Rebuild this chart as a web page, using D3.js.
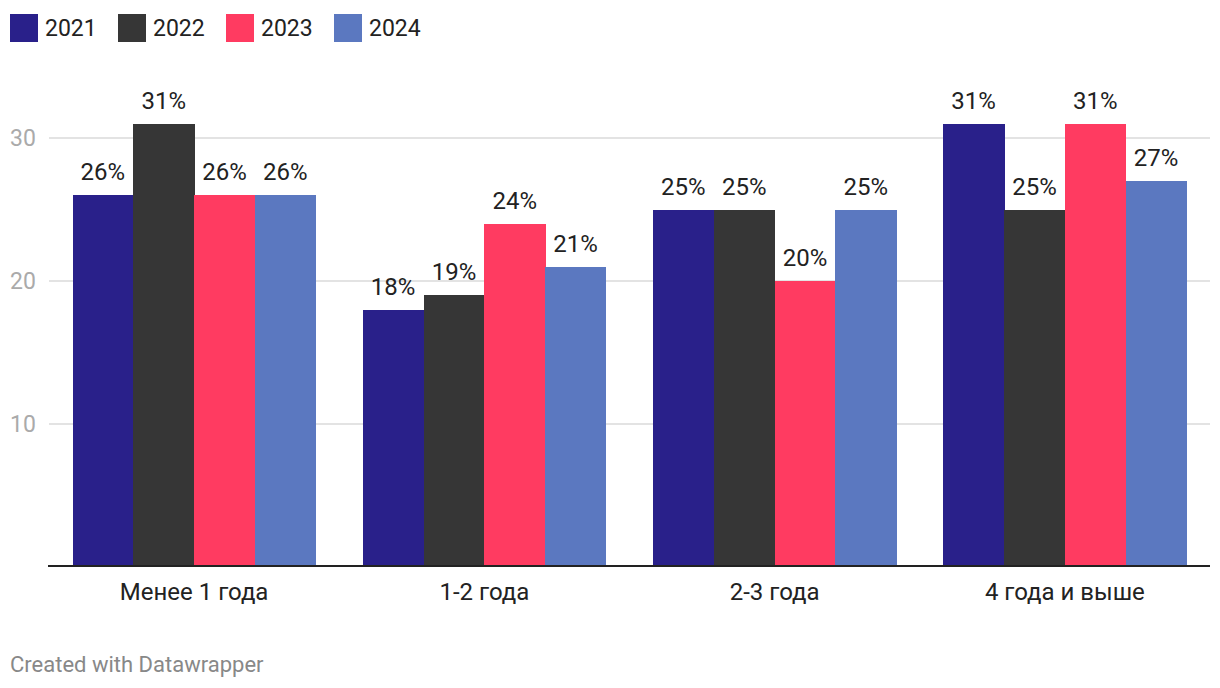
<!DOCTYPE html>
<html>
<head>
<meta charset="utf-8">
<script src="https://cdn.jsdelivr.net/npm/d3@7"></script>
<style>
  body { margin: 0; background: #fff; }
  text { font-family: Roboto, "Noto Sans", sans-serif; }
</style>
</head>
<body>
<svg id="chart" width="1220" height="688"></svg>
<script>
const categories = ["Менее 1 года", "1-2 года", "2-3 года", "4 года и выше"];
const years = ["2021", "2022", "2023", "2024"];
const colors = ["#29208a", "#363636", "#ff3b61", "#5b78c0"];
const values2021 = [26, 18, 25, 31];
const values2022 = [31, 19, 25, 25];
const values2023 = [26, 24, 20, 31];
const values2024 = [26, 21, 25, 27];
const yTicks = [10, 20, 30];

const series = [values2021, values2022, values2023, values2024];

const svg = d3.select("#chart");
const left = 49, right = 1210, zeroY = 567;

let x = d3.scaleBand().domain(categories).range([left, right])
  .paddingInner(0.162).paddingOuter(0.081);
let x1 = d3.scaleBand().domain(years).range([0, x.bandwidth()]);
let y = d3.scaleLinear().domain([0, 30]).range([zeroY, 138]);

// legend
let lg = svg.append("g");
years.forEach((yr, i) => {
  let gx = 10 + i * 108;
  lg.append("rect").attr("x", gx).attr("y", 14).attr("width", 28).attr("height", 28).attr("fill", colors[i]);
  lg.append("text").attr("x", gx + 35).attr("y", 36).attr("font-size", 23).attr("fill", "#222").text(yr);
});

// grid
let grid = svg.append("g");
grid.selectAll("line").data(yTicks).enter().append("line")
  .attr("x1", left).attr("x2", right)
  .attr("y1", d => y(d)).attr("y2", d => y(d))
  .attr("stroke", "#e3e3e3").attr("stroke-width", 2);
grid.selectAll("text").data(yTicks).enter().append("text")
  .attr("x", 10).attr("y", d => y(d) + 8)
  .attr("font-size", 23).attr("fill", "#aaa").text(d => d);

// bars
let groups = svg.append("g").selectAll("g").data(categories).enter().append("g")
  .attr("transform", d => `translate(${x(d)},0)`);

groups.each(function(cat, ci) {
  let g = d3.select(this);
  years.forEach((yr, si) => {
    let v = series[si][ci];
    g.append("rect")
      .attr("x", x1(yr)).attr("width", x1.bandwidth() + 0.5)
      .attr("y", y(v)).attr("height", zeroY - y(v))
      .attr("shape-rendering", "crispEdges")
      .attr("fill", colors[si]);
    g.append("text")
      .attr("x", x1(yr) + x1.bandwidth() / 2).attr("y", y(v) - 15)
      .attr("text-anchor", "middle").attr("font-size", 24).attr("fill", "#222")
      .text(v + "%");
  });
});

// baseline
svg.append("line").attr("x1", left - 1).attr("x2", right)
  .attr("y1", zeroY - 1).attr("y2", zeroY - 1)
  .attr("stroke", "#222").attr("stroke-width", 2);

// x axis labels
svg.append("g").selectAll("text").data(categories).enter().append("text")
  .attr("x", d => x(d) + x.bandwidth() / 2).attr("y", 600)
  .attr("text-anchor", "middle").attr("font-size", 24).attr("fill", "#222")
  .text(d => d);

svg.append("text").attr("x", 10).attr("y", 672)
  .attr("font-size", 22).attr("fill", "#888").text("Created with Datawrapper");
</script>
</body>
</html>
